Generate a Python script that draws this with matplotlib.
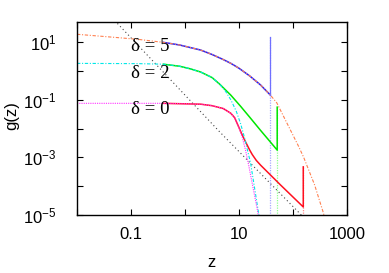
import numpy as np
import matplotlib as mpl
mpl.use('Agg')
import matplotlib.pyplot as plt
from matplotlib.ticker import FixedLocator, FuncFormatter, NullLocator

plt.rcParams['font.family'] = 'Liberation Sans'
plt.rcParams['mathtext.fontset'] = 'custom'
plt.rcParams['mathtext.rm'] = 'Liberation Sans'
plt.rcParams['mathtext.it'] = 'Liberation Sans:italic'

# common tail (dash-dot orange)
z_tail = [0.01, 0.060, 0.141, 0.398, 0.794, 1.95, 3.16, 5.01, 7.08, 10, 15.8, 25.1,
          38, 50.1, 79.4, 126, 158, 251, 355, 447]
g_tail = [19.1, 14.5, 12.6, 10, 8.1, 5.4, 3.8, 2.57, 1.86, 1.26, 0.68, 0.33,
          0.148, 0.079, 0.0141, 2.5e-3, 1e-3, 1.12e-4, 1.41e-5, 3.2e-6]

# delta = 5 (blue)
z_d5 = [0.398, 0.794, 1.95, 3.16, 5.01, 7.08, 10, 15.8, 25.1, 38, 38]
g_d5 = [10, 8.1, 5.4, 3.8, 2.57, 1.86, 1.26, 0.68, 0.33, 0.148, 15]

# delta = 2 (green) and its cut-off approx (cyan)
z_d2 = [0.398, 0.794, 1.26, 1.95, 3.16, 4.37, 7.08, 10.7, 15.8, 25.1, 51, 51]
g_d2 = [1.74, 1.48, 1.20, 0.93, 0.60, 0.355, 0.145, 0.060, 0.025, 8.7e-3, 1.8e-3, 0.056]
z_d2c = [0.01, 0.141, 0.398, 0.794, 1.26, 1.95, 3.16, 4.37, 5.62, 7.08, 8.91,
         10.7, 12.6, 16.4, 22.9, 26.3]
g_d2c = [1.86, 1.82, 1.74, 1.48, 1.20, 0.93, 0.60, 0.355, 0.2, 0.1, 0.04,
         0.015, 5e-3, 6.3e-4, 1.26e-5, 2.5e-6]

# delta = 0 (red) and its cut-off approx (magenta)
z_d0 = [0.398, 1.95, 3.16, 5.13, 7.08, 8.32, 9.77, 11.5, 13.2, 15.8, 17.6, 20.9,
        25.1, 58.9, 155, 155]
g_d0 = [0.076, 0.071, 0.063, 0.05, 0.034, 0.024, 0.012, 6.0e-3, 3.5e-3, 1.8e-3,
        1.26e-3, 7.9e-4, 5.4e-4, 1.1e-4, 1.9e-5, 4.7e-4]
z_d0c = [0.01, 0.398, 1.95, 3.16, 5.13, 7.08, 8.32, 9.77, 11.5, 13.2, 15.1, 18.6,
         21.9, 25.1]
g_d0c = [0.076, 0.076, 0.071, 0.063, 0.05, 0.034, 0.024, 0.012, 5.0e-3, 1.8e-3,
         5.4e-4, 7.2e-5, 1.5e-5, 3.2e-6]

# z^-2 guide
z_pow = [0.05, 4.37, 160]
g_pow = [57, 7.8e-3, 8e-6]

# vertical cut positions (z, top g)
z_cut = [38, 51.5, 155.5]
g_cut = [15, 0.056, 4.7e-4]
cut_colors = ['#a8a8ff', '#90ff90', '#ff8c8c']

labels = ['δ = 5', 'δ = 2', 'δ = 0']
label_y = [0.872, 0.732, 0.545]

fig = plt.figure(figsize=(3.89, 2.73), dpi=100)
ax = fig.add_axes([0.198, 0.2125, 0.694, 0.706])

ax.plot(z_pow, g_pow, color='#444444', lw=0.8, ls=(0, (1, 2.5)))

for zc, gc, cc in zip(z_cut, g_cut, cut_colors):
    ax.plot([zc, zc], [gc, 1e-6], color=cc, lw=0.9, ls=(0, (1, 1)))

ax.plot(z_d5[:-1], g_d5[:-1], color='#2020ff', lw=1.1)
ax.plot(z_d5[-2:], g_d5[-2:], color='#7070ff', lw=0.9)
ax.plot(z_d2, g_d2, color='#00e600', lw=1.1)
ax.plot(z_d0, g_d0, color='#ff1020', lw=1.1)

ax.plot(z_tail, g_tail, color='#ff8050', lw=0.8, ls=(0, (3, 1.5, 1, 1.5)))
ax.plot(z_d2c, g_d2c, color='#00e8e8', lw=0.8, ls=(0, (3, 1.5, 1, 1.5)))
ax.plot(z_d0c, g_d0c, color='#ff30ff', lw=0.8, ls=(0, (1, 1)))

for lab, yy in zip(labels, label_y):
    ax.text(0.200, yy, lab, transform=ax.transAxes, ha='left', va='center',
            fontsize=13.5, family='Liberation Serif')

ax.set_xscale('log')
ax.set_yscale('log')
ax.set_xlim(0.01, 1000)
ax.set_ylim(1e-5, 50)

xt = [0.01, 0.1, 1, 10, 100, 1000]
ax.xaxis.set_major_locator(FixedLocator(xt))
ax.xaxis.set_minor_locator(NullLocator())
ax.xaxis.set_major_formatter(FuncFormatter(
    lambda v, p: {0.1: '0.1', 10: '10', 1000: '1000'}.get(round(v, 3), '')))

yt = [1e-5, 1e-4, 1e-3, 1e-2, 1e-1, 1, 10]
ax.yaxis.set_major_locator(FixedLocator(yt))
ax.yaxis.set_minor_locator(NullLocator())

def yfmt(v, p):
    e = int(round(np.log10(v)))
    if e % 2 == 0:
        return ''
    return '$10^{%d}$' % e

ax.yaxis.set_major_formatter(FuncFormatter(yfmt))

ax.tick_params(which='both', direction='in', top=True, right=True,
               length=4.5, width=0.8, labelsize=12)
ax.tick_params(axis='y', pad=15)
ax.tick_params(axis='x', pad=9)
for s in ax.spines.values():
    s.set_linewidth(1.0)

fig.text(0.543, 0.04, 'z', fontsize=12, ha='center', va='center')
fig.text(0.03, 0.575, 'g(z)', fontsize=12, ha='center', va='center', rotation=90)

fig.savefig('out.png', dpi=100)
